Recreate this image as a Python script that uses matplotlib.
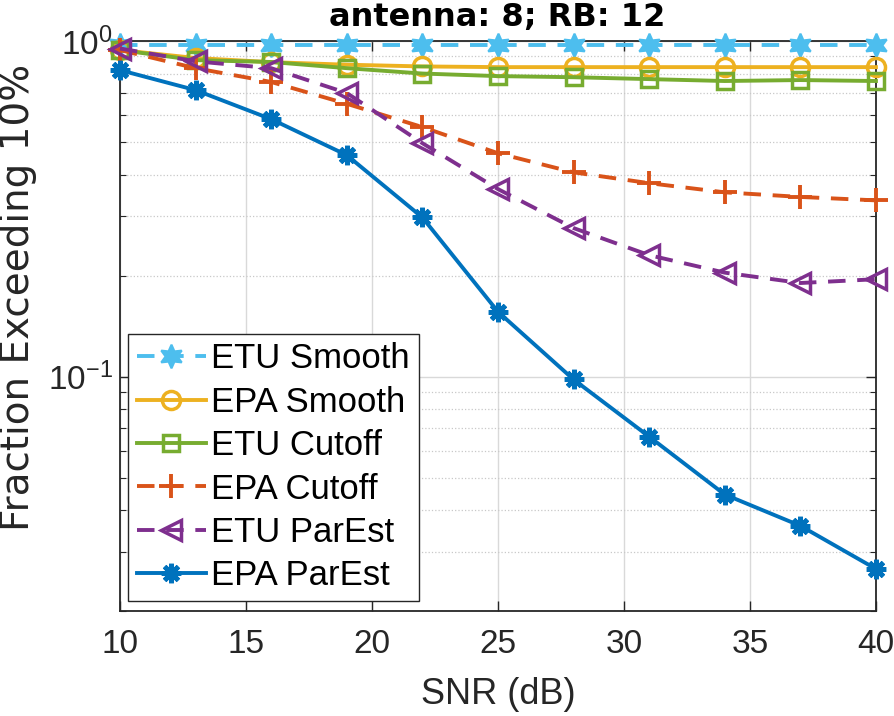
import numpy as np
import matplotlib
matplotlib.use("Agg")
import matplotlib.pyplot as plt
from matplotlib.ticker import LogLocator, NullFormatter

plt.rcParams["font.family"] = "Liberation Sans"
plt.rcParams["mathtext.fontset"] = "custom"
plt.rcParams["mathtext.rm"] = "Liberation Sans"
plt.rcParams["mathtext.it"] = "Liberation Sans:italic"
plt.rcParams["mathtext.bf"] = "Liberation Sans:bold"

# SNR points (dB)
snr = [10, 13, 16, 19, 22, 25, 28, 31, 34, 37, 40]

etu_smooth = [0.972, 0.972, 0.972, 0.972, 0.972, 0.972, 0.972, 0.972, 0.972, 0.972, 0.972]
epa_smooth = [0.94, 0.89, 0.865, 0.85, 0.84, 0.836, 0.836, 0.836, 0.836, 0.836, 0.836]
etu_cutoff = [0.94, 0.877, 0.866, 0.83, 0.80, 0.786, 0.78, 0.77, 0.76, 0.765, 0.76]
epa_cutoff = [0.94, 0.83, 0.755, 0.65, 0.554, 0.463, 0.406, 0.377, 0.354, 0.343, 0.335]
etu_parest = [0.95, 0.87, 0.83, 0.70, 0.496, 0.362, 0.277, 0.230, 0.204, 0.190, 0.195]
epa_parest = [0.819, 0.714, 0.585, 0.457, 0.298, 0.156, 0.098, 0.0662, 0.0445, 0.0359, 0.0267]

labels = ["ETU Smooth", "EPA Smooth", "ETU Cutoff", "EPA Cutoff", "ETU ParEst", "EPA ParEst"]

c_blue = "#0072BD"
c_orange = "#D95319"
c_yellow = "#EDB120"
c_purple = "#7E2F8E"
c_green = "#77AC30"
c_cyan = "#4DBEEE"

fig = plt.figure(figsize=(8.94, 7.16), dpi=100)
ax = fig.add_axes([0.1342, 0.1466, 0.8456, 0.7961])

lw = 2.8
dash = (4.5, 3)
common = dict(lw=lw, clip_on=False, zorder=3)

ax.plot(snr, etu_smooth, color=c_cyan, ls="--", dashes=dash, marker=(6, 1, 0), ms=17,
        mfc=c_cyan, mew=1.5, label=labels[0], **common)
ax.plot(snr, epa_smooth, color=c_yellow, ls="-", marker="o", ms=13, mfc="none",
        mew=2.5, label=labels[1], **common)
ax.plot(snr, etu_cutoff, color=c_green, ls="-", marker="s", ms=11, mfc="none",
        mew=2.5, label=labels[2], **common)
ax.plot(snr, epa_cutoff, color=c_orange, ls="--", dashes=dash, marker="+", ms=17,
        mew=2.8, label=labels[3], **common)
ax.plot(snr, etu_parest, color=c_purple, ls="--", dashes=dash, marker="<", ms=15,
        mfc="none", mew=2.5, label=labels[4], **common)
ax.plot(snr, epa_parest, color=c_blue, ls="-", marker=(8, 2, 0), ms=14,
        mew=3.5, label=labels[5], **common)

ax.set_yscale("log")
ax.set_xlim(10, 40)
ax.set_ylim(0.02, 1)
ax.set_xticks([10, 15, 20, 25, 30, 35, 40])
ax.yaxis.set_major_locator(LogLocator(base=10))
ax.yaxis.set_minor_locator(LogLocator(base=10, subs=np.arange(2, 10)))
ax.yaxis.set_minor_formatter(NullFormatter())

ax.grid(True, which="major", color="#d9d9d9", lw=1.0, ls="-")
ax.grid(True, which="minor", axis="y", color="#c8c8c8", lw=0.9, ls=":")
ax.set_axisbelow(True)

for s in ax.spines.values():
    s.set_color("#262626")
    s.set_linewidth(1.3)

ax.tick_params(which="both", direction="in", top=True, right=True, color="#262626")
ax.tick_params(which="major", length=7, width=1.0)
ax.tick_params(which="minor", length=4, width=0.8)
ax.tick_params(axis="x", pad=13)
ax.tick_params(axis="y", pad=5)
ax.tick_params(labelsize=24, labelcolor="#262626")

leg = ax.legend(loc="lower left", bbox_to_anchor=(0.0105, 0.0175), borderaxespad=0,
                prop={"family": "Liberation Sans", "size": 25}, frameon=True,
                fancybox=False, edgecolor="#262626", framealpha=1,
                handlelength=2.0, handletextpad=0.15, labelspacing=0.3,
                borderpad=0.25)
leg.get_frame().set_linewidth(1.0)

fig.text(0.557, 0.03, "SNR (dB)", ha="center", va="center", fontsize=26,
         family="Liberation Sans", color="#262626")
fig.text(0.020, 0.584, "Fraction Exceeding 10%", rotation=90, ha="center", va="center",
         fontsize=28, family="DejaVu Sans", color="#262626")
fig.text(0.556, 0.976, "antenna: 8; RB: 12", ha="center", va="center", fontsize=23,
         family="DejaVu Sans", fontweight="bold", color="black")

fig.savefig("out.png", dpi=100)
